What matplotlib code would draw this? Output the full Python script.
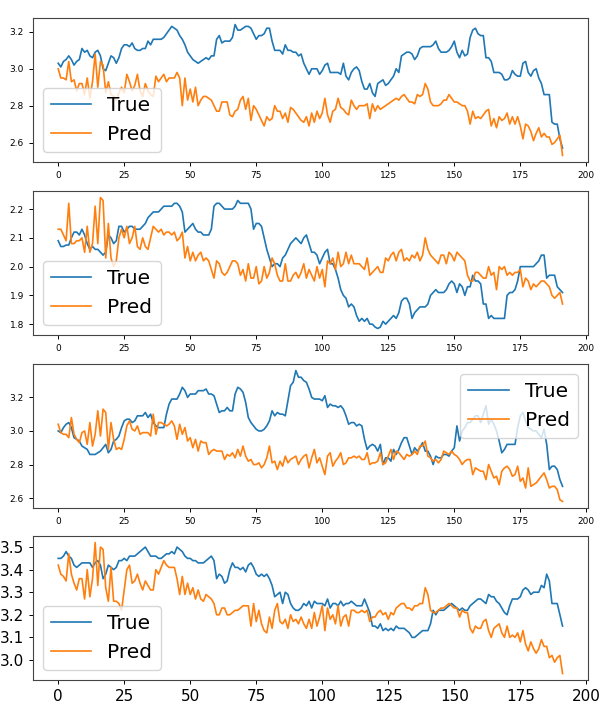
import matplotlib.pyplot as plt
from matplotlib.ticker import MultipleLocator

# dane - 4 serie, po 192 punkty (wartosc prawdziwa i predykcja)
true_1 = [3.03, 3.01, 3.04, 3.05, 3.07, 3.05, 3.02, 3.04, 3.05, 3.11,
          3.09, 3.10, 3.07, 3.06, 3.09, 3.10, 3.07, 3.00, 2.99, 3.03,
          3.07, 3.06, 3.03, 3.06, 3.11, 3.13, 3.13, 3.12, 3.14, 3.11,
          3.10, 3.10, 3.11, 3.11, 3.15, 3.13, 3.16, 3.16, 3.16, 3.16,
          3.17, 3.19, 3.21, 3.23, 3.22, 3.21, 3.18, 3.16, 3.13, 3.09,
          3.07, 3.05, 3.04, 3.03, 3.04, 3.05, 3.06, 3.05, 3.07, 3.07,
          3.16, 3.18, 3.14, 3.15, 3.15, 3.15, 3.17, 3.24, 3.21, 3.21,
          3.22, 3.23, 3.23, 3.22, 3.19, 3.16, 3.18, 3.18, 3.19, 3.22,
          3.22, 3.15, 3.10, 3.10, 3.10, 3.08, 3.13, 3.10, 3.10, 3.09,
          3.09, 3.07, 3.08, 3.03, 3.00, 2.97, 3.00, 3.00, 3.00, 2.97,
          2.99, 3.02, 3.03, 2.98, 2.98, 2.98, 2.98, 2.97, 3.03, 2.96,
          2.94, 2.98, 3.00, 3.01, 2.99, 2.93, 2.89, 2.89, 2.92, 2.87,
          2.85, 2.92, 2.93, 2.94, 2.91, 2.92, 2.94, 2.96, 3.00, 2.98,
          3.07, 3.08, 3.09, 3.09, 3.08, 3.05, 3.07, 3.11, 3.12, 3.12,
          3.12, 3.12, 3.13, 3.15, 3.11, 3.09, 3.09, 3.09, 3.10, 3.12,
          3.15, 3.09, 3.06, 3.10, 3.07, 3.08, 3.17, 3.21, 3.22, 3.19,
          3.18, 3.18, 3.06, 3.06, 3.04, 2.98, 2.98, 2.98, 2.97, 2.94,
          2.94, 2.95, 2.99, 2.97, 2.96, 2.96, 3.03, 3.04, 2.98, 2.96,
          2.99, 3.00, 2.95, 2.92, 2.86, 2.86, 2.86, 2.71, 2.70, 2.70,
          2.62, 2.57]
pred_1 = [3.00, 2.95, 2.95, 2.94, 3.04, 2.93, 2.94, 2.88, 2.92, 2.92,
          2.86, 2.95, 2.84, 2.93, 3.08, 2.90, 3.04, 3.02, 2.87, 2.93,
          2.86, 2.85, 2.83, 2.87, 2.90, 2.87, 2.97, 2.93, 2.88, 2.91,
          2.97, 2.88, 2.85, 2.92, 2.88, 2.86, 2.85, 2.96, 2.93, 2.95,
          2.97, 2.93, 2.95, 2.95, 2.95, 2.98, 2.95, 2.80, 2.95, 2.83,
          2.89, 2.82, 2.90, 2.80, 2.83, 2.85, 2.85, 2.84, 2.83, 2.80,
          2.77, 2.77, 2.82, 2.82, 2.82, 2.75, 2.74, 2.77, 2.78, 2.83,
          2.85, 2.78, 2.84, 2.72, 2.80, 2.78, 2.75, 2.72, 2.69, 2.74,
          2.72, 2.73, 2.80, 2.77, 2.77, 2.73, 2.76, 2.71, 2.79, 2.78,
          2.76, 2.74, 2.72, 2.71, 2.74, 2.69, 2.76, 2.71, 2.77, 2.73,
          2.76, 2.84, 2.75, 2.71, 2.77, 2.78, 2.84, 2.79, 2.78, 2.76,
          2.75, 2.83, 2.80, 2.78, 2.80, 2.80, 2.80, 2.81, 2.73, 2.81,
          2.77, 2.80, 2.78, 2.79, 2.80, 2.81, 2.82, 2.83, 2.84, 2.83,
          2.85, 2.86, 2.84, 2.82, 2.82, 2.81, 2.86, 2.85, 2.86, 2.92,
          2.89, 2.82, 2.80, 2.80, 2.80, 2.81, 2.83, 2.83, 2.86, 2.84,
          2.82, 2.82, 2.81, 2.80, 2.80, 2.77, 2.70, 2.77, 2.73, 2.74,
          2.73, 2.75, 2.77, 2.78, 2.69, 2.73, 2.68, 2.74, 2.72, 2.73,
          2.76, 2.70, 2.74, 2.70, 2.74, 2.69, 2.62, 2.70, 2.69, 2.66,
          2.61, 2.65, 2.68, 2.63, 2.65, 2.63, 2.63, 2.59, 2.60, 2.62,
          2.64, 2.53]

true_2 = [2.09, 2.07, 2.07, 2.075, 2.075, 2.10, 2.12, 2.12, 2.11, 2.13,
          2.11, 2.08, 2.06, 2.07, 2.06, 2.06, 2.05, 2.04, 2.05, 2.11,
          2.10, 2.08, 2.09, 2.14, 2.14, 2.12, 2.13, 2.14, 2.14, 2.13,
          2.13, 2.13, 2.14, 2.15, 2.17, 2.18, 2.19, 2.19, 2.19, 2.20,
          2.21, 2.21, 2.21, 2.21, 2.22, 2.22, 2.21, 2.19, 2.12, 2.13,
          2.14, 2.15, 2.13, 2.12, 2.12, 2.11, 2.11, 2.11, 2.13, 2.21,
          2.22, 2.22, 2.21, 2.20, 2.20, 2.20, 2.20, 2.21, 2.23, 2.22,
          2.22, 2.22, 2.22, 2.20, 2.13, 2.15, 2.15, 2.14, 2.10, 2.06,
          2.03, 2.00, 2.01, 2.01, 2.00, 2.03, 2.04, 2.06, 2.08, 2.09,
          2.10, 2.09, 2.08, 2.10, 2.11, 2.08, 2.05, 2.05, 2.04, 2.01,
          2.03, 2.05, 2.06, 2.01, 2.01, 1.99, 1.96, 1.92, 1.90, 1.89,
          1.86, 1.87, 1.86, 1.83, 1.81, 1.82, 1.81, 1.82, 1.80, 1.80,
          1.79, 1.785, 1.79, 1.81, 1.80, 1.81, 1.82, 1.83, 1.82, 1.84,
          1.88, 1.89, 1.89, 1.87, 1.82, 1.84, 1.85, 1.86, 1.86, 1.86,
          1.87, 1.90, 1.91, 1.92, 1.91, 1.91, 1.91, 1.92, 1.94, 1.95,
          1.94, 1.91, 1.94, 1.93, 1.90, 1.93, 1.93, 1.97, 1.95, 1.95,
          1.94, 1.87, 1.87, 1.82, 1.83, 1.82, 1.82, 1.82, 1.82, 1.82,
          1.90, 1.91, 1.91, 1.92, 1.95, 2.00, 2.00, 2.00, 2.00, 2.00,
          2.00, 2.01, 2.02, 2.04, 2.04, 1.96, 1.97, 1.97, 1.97, 1.93,
          1.92, 1.91]
pred_2 = [2.13, 2.13, 2.11, 2.09, 2.22, 2.08, 2.08, 2.09, 2.09, 2.10,
          2.05, 2.14, 2.05, 2.08, 2.21, 2.08, 2.24, 2.23, 2.03, 2.15,
          2.03, 2.00, 2.02, 2.10, 2.13, 2.10, 2.14, 2.08, 2.10, 2.14,
          2.07, 2.06, 2.10, 2.07, 2.06, 2.10, 2.14, 2.13, 2.12, 2.13,
          2.11, 2.12, 2.12, 2.11, 2.12, 2.09, 2.10, 2.12, 2.03, 2.07,
          2.02, 2.05, 2.02, 2.04, 2.05, 2.02, 2.03, 2.02, 1.99, 1.96,
          2.02, 2.01, 1.98, 1.97, 1.98, 2.00, 2.02, 2.02, 2.01, 1.97,
          1.99, 1.95, 2.01, 1.96, 1.96, 2.00, 1.94, 1.95, 2.00, 1.96,
          1.98, 2.03, 2.01, 1.97, 1.95, 1.95, 2.01, 1.95, 1.95, 1.97,
          1.98, 1.96, 1.98, 2.01, 1.96, 1.99, 1.97, 1.95, 2.00, 1.96,
          1.99, 1.93, 2.02, 2.01, 2.03, 1.99, 2.05, 2.00, 2.01, 2.05,
          2.01, 2.04, 2.01, 2.01, 2.01, 2.00, 1.99, 2.03, 1.97, 1.98,
          1.99, 2.00, 1.98, 1.98, 2.03, 2.02, 2.04, 2.05, 2.02, 2.05,
          2.06, 2.02, 2.03, 2.02, 2.04, 2.03, 2.05, 2.02, 2.04, 2.10,
          2.06, 2.04, 2.03, 2.02, 2.01, 2.04, 2.04, 2.01, 2.05, 2.04,
          2.02, 2.05, 2.04, 2.03, 2.02, 1.97, 1.95, 1.95, 1.98, 1.98,
          1.97, 1.96, 1.96, 2.00, 1.97, 1.98, 1.92, 2.00, 1.99, 2.00,
          1.97, 1.98, 1.97, 1.98, 1.98, 1.99, 1.93, 1.96, 1.95, 1.92,
          1.94, 1.93, 1.94, 1.95, 1.95, 1.94, 1.93, 1.90, 1.89, 1.90,
          1.91, 1.87]

true_3 = [3.00, 2.99, 3.02, 3.04, 3.05, 3.02, 2.96, 2.95, 2.94, 2.91,
          2.90, 2.89, 2.86, 2.86, 2.86, 2.87, 2.88, 2.90, 2.92, 2.87,
          2.89, 2.94, 2.95, 2.97, 3.02, 3.06, 3.07, 3.07, 3.05, 3.06,
          3.09, 3.09, 3.09, 3.11, 3.08, 3.10, 3.05, 3.03, 3.02, 3.02,
          3.02, 3.10, 3.16, 3.19, 3.19, 3.19, 3.22, 3.26, 3.24, 3.20,
          3.22, 3.22, 3.22, 3.24, 3.24, 3.24, 3.25, 3.22, 3.22, 3.21,
          3.16, 3.11, 3.12, 3.12, 3.14, 3.12, 3.12, 3.22, 3.26, 3.25,
          3.23, 3.17, 3.08, 3.05, 3.03, 3.01, 3.00, 3.00, 3.01, 3.03,
          3.06, 3.12, 3.09, 3.11, 3.10, 3.10, 3.09, 3.18, 3.27, 3.29,
          3.36, 3.32, 3.32, 3.30, 3.29, 3.25, 3.20, 3.19, 3.19, 3.19,
          3.18, 3.21, 3.14, 3.16, 3.15, 3.15, 3.14, 3.15, 3.13, 3.09,
          3.04, 3.05, 3.05, 3.03, 3.04, 3.03, 2.95, 2.89, 2.91, 2.92,
          2.91, 2.88, 2.92, 2.80, 2.84, 2.84, 2.82, 2.89, 2.86, 2.89,
          2.93, 2.96, 2.96, 2.91, 2.86, 2.90, 2.88, 2.90, 2.93, 2.88,
          2.88, 2.85, 2.80, 2.85, 2.84, 2.84, 2.86, 2.86, 2.85, 2.88,
          2.90, 3.03, 2.94, 3.00, 3.02, 3.05, 3.05, 3.07, 3.09, 3.09,
          3.05, 3.10, 3.15, 3.04, 3.07, 3.04, 3.00, 2.94, 2.87, 2.89,
          2.92, 2.92, 2.92, 2.92, 3.02, 3.09, 3.11, 3.06, 3.02, 3.01,
          3.00, 3.00, 2.98, 2.96, 3.01, 2.92, 2.77, 2.79, 2.79, 2.77,
          2.71, 2.67]
pred_3 = [3.04, 2.99, 2.98, 2.98, 2.96, 3.08, 2.98, 2.95, 2.93, 2.99,
          3.00, 2.92, 3.05, 2.91, 2.98, 3.12, 2.97, 3.13, 3.11, 2.89,
          3.05, 2.95, 2.89, 2.90, 2.89, 2.95, 3.03, 3.06, 3.01, 3.00,
          3.03, 2.98, 2.99, 2.99, 2.99, 2.97, 3.10, 2.98, 3.05, 3.05,
          3.04, 3.03, 3.04, 3.06, 3.03, 2.95, 3.04, 2.98, 3.02, 2.94,
          2.96, 2.90, 2.95, 2.88, 2.94, 2.93, 2.93, 2.86, 2.88, 2.89,
          2.88, 2.88, 2.88, 2.83, 2.86, 2.85, 2.87, 2.84, 2.89, 2.85,
          2.91, 2.85, 2.82, 2.83, 2.80, 2.80, 2.81, 2.78, 2.80, 2.84,
          2.91, 2.81, 2.82, 2.77, 2.82, 2.79, 2.85, 2.81, 2.83, 2.84,
          2.85, 2.80, 2.83, 2.85, 2.86, 2.78, 2.84, 2.89, 2.81, 2.84,
          2.79, 2.74, 2.85, 2.87, 2.79, 2.82, 2.84, 2.87, 2.80, 2.81,
          2.84, 2.84, 2.85, 2.84, 2.85, 2.83, 2.83, 2.87, 2.80, 2.81,
          2.81, 2.82, 2.87, 2.80, 2.81, 2.85, 2.89, 2.83, 2.88, 2.87,
          2.85, 2.83, 2.86, 2.85, 2.86, 2.88, 2.86, 2.91, 2.91, 2.94,
          2.85, 2.84, 2.82, 2.83, 2.81, 2.83, 2.88, 2.87, 2.86, 2.88,
          2.86, 2.85, 2.83, 2.80, 2.82, 2.83, 2.83, 2.74, 2.78, 2.77,
          2.76, 2.76, 2.71, 2.80, 2.76, 2.72, 2.73, 2.68, 2.76, 2.78,
          2.79, 2.77, 2.73, 2.74, 2.79, 2.70, 2.72, 2.66, 2.78, 2.67,
          2.68, 2.69, 2.71, 2.73, 2.75, 2.71, 2.66, 2.67, 2.67, 2.65,
          2.59, 2.58]

true_4 = [3.45, 3.45, 3.46, 3.48, 3.46, 3.45, 3.42, 3.41, 3.42, 3.43,
          3.43, 3.43, 3.43, 3.41, 3.43, 3.44, 3.42, 3.36, 3.38, 3.42,
          3.41, 3.40, 3.41, 3.44, 3.44, 3.45, 3.44, 3.46, 3.46, 3.46,
          3.47, 3.48, 3.49, 3.50, 3.48, 3.46, 3.46, 3.46, 3.45, 3.45,
          3.46, 3.47, 3.47, 3.48, 3.47, 3.50, 3.49, 3.48, 3.46, 3.45,
          3.45, 3.44, 3.44, 3.43, 3.43, 3.43, 3.44, 3.45, 3.46, 3.44,
          3.36, 3.38, 3.37, 3.34, 3.35, 3.40, 3.43, 3.41, 3.41, 3.40,
          3.41, 3.39, 3.42, 3.43, 3.41, 3.38, 3.37, 3.38, 3.37, 3.38,
          3.36, 3.33, 3.28, 3.29, 3.30, 3.25, 3.30, 3.29, 3.25, 3.23,
          3.22, 3.22, 3.23, 3.25, 3.24, 3.26, 3.23, 3.26, 3.25, 3.25,
          3.25, 3.24, 3.27, 3.23, 3.25, 3.25, 3.24, 3.26, 3.24, 3.25,
          3.25, 3.26, 3.25, 3.24, 3.24, 3.24, 3.27, 3.24, 3.21, 3.15,
          3.15, 3.14, 3.16, 3.13, 3.14, 3.13, 3.14, 3.13, 3.15, 3.14,
          3.14, 3.14, 3.13, 3.12, 3.10, 3.10, 3.11, 3.12, 3.13, 3.13,
          3.13, 3.16, 3.22, 3.20, 3.22, 3.22, 3.22, 3.23, 3.24, 3.25,
          3.24, 3.23, 3.22, 3.23, 3.22, 3.22, 3.24, 3.25, 3.26, 3.27,
          3.27, 3.26, 3.25, 3.29, 3.28, 3.28, 3.26, 3.25, 3.23, 3.21,
          3.20, 3.24, 3.27, 3.27, 3.27, 3.28, 3.31, 3.32, 3.31, 3.29,
          3.30, 3.30, 3.30, 3.33, 3.32, 3.38, 3.35, 3.25, 3.25, 3.25,
          3.20, 3.15]
pred_4 = [3.42, 3.38, 3.37, 3.35, 3.47, 3.38, 3.34, 3.31, 3.36, 3.36,
          3.27, 3.40, 3.28, 3.36, 3.52, 3.33, 3.50, 3.49, 3.32, 3.26,
          3.41, 3.26, 3.26, 3.25, 3.22, 3.31, 3.40, 3.42, 3.34, 3.35,
          3.38, 3.34, 3.31, 3.35, 3.33, 3.31, 3.31, 3.40, 3.38, 3.41,
          3.44, 3.42, 3.41, 3.41, 3.41, 3.36, 3.29, 3.37, 3.29, 3.34,
          3.29, 3.32, 3.27, 3.31, 3.27, 3.26, 3.29, 3.28, 3.27, 3.25,
          3.20, 3.20, 3.23, 3.23, 3.20, 3.20, 3.21, 3.22, 3.22, 3.23,
          3.24, 3.24, 3.24, 3.15, 3.25, 3.17, 3.22, 3.16, 3.13, 3.12,
          3.19, 3.14, 3.22, 3.25, 3.17, 3.16, 3.18, 3.14, 3.20, 3.17,
          3.18, 3.16, 3.19, 3.16, 3.14, 3.18, 3.14, 3.21, 3.15, 3.19,
          3.24, 3.13, 3.23, 3.18, 3.20, 3.16, 3.24, 3.15, 3.19, 3.20,
          3.15, 3.22, 3.22, 3.21, 3.21, 3.22, 3.21, 3.22, 3.17, 3.19,
          3.19, 3.21, 3.22, 3.20, 3.21, 3.18, 3.21, 3.20, 3.23, 3.24,
          3.25, 3.25, 3.23, 3.23, 3.22, 3.24, 3.24, 3.25, 3.25, 3.32,
          3.29, 3.22, 3.21, 3.21, 3.22, 3.23, 3.23, 3.24, 3.25, 3.24,
          3.23, 3.23, 3.19, 3.22, 3.21, 3.21, 3.14, 3.12, 3.15, 3.14,
          3.14, 3.17, 3.18, 3.13, 3.10, 3.14, 3.15, 3.16, 3.12, 3.10,
          3.15, 3.10, 3.11, 3.10, 3.12, 3.08, 3.13, 3.07, 3.04, 3.08,
          3.05, 3.03, 3.05, 3.09, 3.06, 3.06, 3.01, 3.02, 2.99, 3.01,
          3.02, 2.94]

series = [(true_1, pred_1), (true_2, pred_2), (true_3, pred_3), (true_4, pred_4)]
legend_loc = ['lower left', 'lower left', 'upper right', 'lower left']
tick_size = [6.5, 6.5, 6.5, 11]
y_step = [0.2, 0.1, 0.2, 0.1]

# polozenie osi (lewo, dol, szerokosc, wysokosc) w ulamkach figury
bottoms = [0.7712, 0.5268, 0.2825, 0.0395]
height = 0.2034

fig = plt.figure(figsize=(6.05, 7.08), dpi=100)

for i, (y_true, y_pred) in enumerate(series):
    ax = fig.add_axes([0.0545, bottoms[i], 0.917, height])
    ax.plot(range(len(y_true)), y_true, label='True', linewidth=1.2)
    ax.plot(range(len(y_pred)), y_pred, label='Pred', linewidth=1.2)
    ax.set_xticks([0, 25, 50, 75, 100, 125, 150, 175, 200])
    ax.yaxis.set_major_locator(MultipleLocator(y_step[i]))
    ax.tick_params(labelsize=tick_size[i], length=3, width=0.7)
    for s in ax.spines.values():
        s.set_linewidth(0.8)
        s.set_color('#444444')
    ax.legend(loc=legend_loc[i], fontsize=14.5)

plt.savefig('out.png', dpi=100)
